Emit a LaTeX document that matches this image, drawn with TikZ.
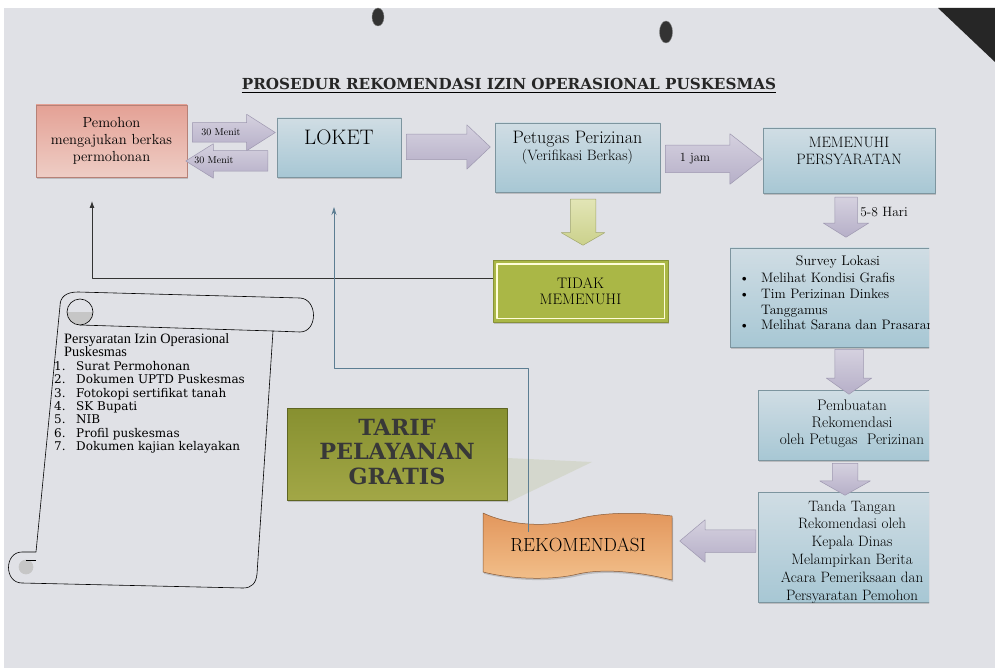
\documentclass[tikz,border=0pt]{standalone}
\usepackage{fontspec}
\newfontfamily\judulfont{DejaVu Serif}
\newfontfamily\timesfont{Liberation Serif}
\usetikzlibrary{shapes.arrows,shadows,arrows.meta,positioning}

\definecolor{kertas}{HTML}{E0E1E6}
\definecolor{biruA}{HTML}{D0DDE4}
\definecolor{biruB}{HTML}{A7C7D4}
\definecolor{merahA}{HTML}{E4A195}
\definecolor{merahB}{HTML}{EECDC5}
\definecolor{unguA}{HTML}{D5D1DF}
\definecolor{unguB}{HTML}{B6AFC8}
\definecolor{unguGaris}{HTML}{9E98B0}
\definecolor{hijauA}{HTML}{E2E5B6}
\definecolor{hijauB}{HTML}{CBD18B}
\definecolor{hijauTua}{HTML}{AAB746}
\definecolor{zaitunA}{HTML}{879030}
\definecolor{zaitunB}{HTML}{A2A746}
\definecolor{oranyeA}{HTML}{E2965C}
\definecolor{oranyeB}{HTML}{F2BF8A}
\definecolor{garisBiru}{HTML}{5C7D92}
\definecolor{bayangan}{HTML}{D3D7CB}

\tikzset{
  bayang/.style={drop shadow={shadow xshift=1.2pt, shadow yshift=-1.8pt, fill=black!40}},
  kotakbiru/.style={bayang, draw=biruB!75!black, line width=.3pt, top color=biruA, bottom color=biruB},
  panah/.style={single arrow, draw=unguGaris, line width=.5pt, top color=unguA, bottom color=unguB,
    minimum width=0pt, inner xsep=0pt, anchor=tail},
  panahturun/.style={panah, shape border rotate=270, inner ysep=0pt, inner xsep=#1},
  panahhijau/.style={panahturun=#1, draw=hijauB!80!black, top color=hijauA, bottom color=hijauB},
  teks/.style={inner sep=0pt, align=center}
}

\begin{document}
\begin{tikzpicture}[x=1pt, y=-1pt, font=\fontsize{14}{17}\selectfont, line join=round]
\useasboundingbox (0,0) rectangle (995,668);
% kertas foto
\fill[white] (0,0) rectangle (995,668);
\fill[kertas] (4,8) rectangle (995,668);
\fill[black!85] (938,8) -- (995,8) -- (995,62) -- cycle;
\fill[black!80, draw=gray] (378,17) ellipse[x radius=6, y radius=9];
\fill[black!80, draw=gray] (666,32) ellipse[x radius=6.5, y radius=11];

% judul
\node[teks, font=\judulfont\bfseries\fontsize{15.2}{18}\selectfont, text=black!85] (judul) at (509,84)
  {PROSEDUR REKOMENDASI IZIN OPERASIONAL PUSKESMAS};
\draw[line width=.8pt] ([yshift=-3pt]judul.base west) -- ([yshift=-3pt]judul.base east);

% baris atas
\node[bayang, draw=merahA!80!black, line width=.3pt, top color=merahA, bottom color=merahB,
  minimum width=151, minimum height=72, teks, font=\fontsize{14.6}{17}\selectfont] (pemohon) at (111.5,141)
  {Pemohon\\mengajukan berkas\\permohonan};
\node[kotakbiru, minimum width=124, minimum height=59] (loket) at (339,147.5) {};
\node[teks, font=\fontsize{21}{24}\selectfont] (loketteks) at (339,137) {LOKET};
\node[kotakbiru, minimum width=165, minimum height=69] (petugas) at (577.5,157.5) {};
\node[teks] (petugasteks) at (577.5,148)
  {{\fontsize{18}{18}\selectfont Petugas Perizinan}\\{\fontsize{15}{17}\selectfont (Verifikasi Berkas)}};
\node[kotakbiru, minimum width=172, minimum height=65] (memenuhi) at (849,160.5) {};
\node[teks, font=\fontsize{15}{17}\selectfont] (memenuhiteks) at (849,151) {MEMENUHI\\PERSYARATAN};

% panah blok
\node[panah, minimum height=83, inner ysep=9.5, single arrow head extend=8.5, single arrow tip angle=65] (kanan30) at (192,132.5) {};
\node[panah, shape border rotate=180, minimum height=82, inner ysep=10, single arrow head extend=7, single arrow tip angle=64] (kiri30) at (268,161) {};
\node[teks, font=\fontsize{10}{11}\selectfont] (menit1) at (221,132) {30 Menit};
\node[teks, font=\fontsize{10}{11}\selectfont] (menit2) at (214,160) {30 Menit};
\node[panah, minimum height=84, inner ysep=12.5, single arrow head extend=9.5, single arrow tip angle=87] (kepetugas) at (406,147) {};
\node[panah, minimum height=97, inner ysep=13.5, single arrow head extend=11.5, single arrow tip angle=76] (satujam) at (665,159) {};
\node[teks, font=\fontsize{12.5}{14}\selectfont] (jamteks) at (695,159) {1 jam};
\node[panahturun=11, minimum height=40, single arrow head extend=11.5, single arrow tip angle=116] (hari) at (846,197) {};
\node[teks, font=\fontsize{13.5}{15}\selectfont] (hariteks) at (884,212) {5-8 Hari};
\node[panahhijau=12.5, minimum height=46, single arrow head extend=9, single arrow tip angle=120] (turunhijau) at (583,199) {};

% tidak memenuhi
\node[bayang, fill=hijauTua, draw=hijauTua!80!black, line width=.3pt, minimum width=175, minimum height=62] (tidak) at (580.5,291) {};
\draw[draw=white!85!yellow, line width=1.3pt] ([xshift=4pt,yshift=-4pt]tidak.north west) rectangle ([xshift=-4pt,yshift=4pt]tidak.south east);
\node[teks, font=\fontsize{15.2}{16}\selectfont] (tidakteks) at (580.5,291) {TIDAK\\MEMENUHI};

% kolom kanan (terpotong di tepi kertas)
\begin{scope}
\clip (700,230) rectangle (929,620);
\node[kotakbiru, minimum width=220, minimum height=99] (survey) at (840,297.5) {};
\node[kotakbiru, minimum width=192, minimum height=70] (pembuatan) at (854,425) {};
\node[kotakbiru, minimum width=192, minimum height=110] (tanda) at (854,547) {};
\node[teks, font=\fontsize{14}{16}\selectfont] (surveyjudul) at (838,262) {Survey Lokasi};
\node[inner sep=0pt, align=left, anchor=north west, font=\fontsize{13.7}{15.7}\selectfont] (surveyisi) at (739,273)
  {\makebox[22pt][l]{\textbullet}Melihat Kondisi Grafis\\
   \makebox[22pt][l]{\textbullet}Tim Perizinan Dinkes\\
   \hspace*{22pt}Tanggamus\\
   \makebox[22pt][l]{\textbullet}Melihat Sarana dan Prasarana};
\node[teks, font=\fontsize{15.3}{17}\selectfont] (pembuatanteks) at (852,424)
  {Pembuatan\\Rekomendasi\\oleh Petugas\ \ Perizinan};
\node[teks, font=\fontsize{15}{17.8}\selectfont] (tandateks) at (852,552)
  {Tanda Tangan\\Rekomendasi oleh\\Kepala Dinas\\Melampirkan Berita\\Acara Pemeriksaan dan\\Persyaratan Pemohon};
\end{scope}
\node[panahturun=14, minimum height=45, single arrow head extend=8.5, single arrow tip angle=109] (kepembuatan) at (849,349) {};
\node[panahturun=12.5, minimum height=32, single arrow head extend=12.5, single arrow tip angle=121] (ketanda) at (845,463) {};
\node[panah, shape border rotate=180, minimum height=76, inner ysep=11, single arrow head extend=10, single arrow tip angle=80] (kerekom) at (756,541) {};

% gulungan persyaratan
\draw[line width=.6pt] (60,306) .. controls (60,297) and (66,292) .. (78,292) -- (300,298)
  .. controls (318,299) and (318,332) .. (300,332) -- (273,331) -- (257,574)
  .. controls (256,583) and (252,588) .. (243,588) -- (22,583)
  .. controls (4,583) and (4,552) .. (22,552) -- (36,552) -- cycle;
\draw[line width=.6pt] (273,331) -- (80,325);
\begin{scope}
\clip (60,312) rectangle (100,330);
\fill[gray!45] (80,312) circle[radius=13];
\end{scope}
\draw[line width=.6pt] (80,312) circle[radius=13];
\fill[gray!45, draw, line width=.6pt] (26,567) circle[radius=7];
\draw[line width=.6pt] (26,560) -- (36,560);
\node[inner sep=0pt, align=left, anchor=north west, font=\timesfont\fontsize{14.3}{13.5}\selectfont] (syarat) at (64,333)
  {Persyaratan Izin Operasional\\Puskesmas};
\node[inner sep=0pt, align=left, anchor=north west, font=\judulfont\fontsize{12}{13.4}\selectfont] (daftar) at (54,361)
  {\makebox[22pt][l]{1.}Surat Permohonan\\
   \makebox[22pt][l]{2.}Dokumen UPTD Puskesmas\\
   \makebox[22pt][l]{3.}Fotokopi sertifikat tanah\\
   \makebox[22pt][l]{4.}SK Bupati\\
   \makebox[22pt][l]{5.}NIB\\
   \makebox[22pt][l]{6.}Profil puskesmas\\
   \makebox[22pt][l]{7.}Dokumen kajian kelayakan};

% tarif dan rekomendasi
\fill[bayangan, opacity=.9] (507,458) -- (592,462) -- (507,503) -- cycle;
\node[bayang, draw=zaitunA!70!black, line width=.3pt, top color=zaitunA, bottom color=zaitunB,
  minimum width=220, minimum height=92] (tarif) at (397,454) {};
\node[teks, font=\judulfont\bfseries\fontsize{22.3}{24.5}\selectfont, text=black!78] (tarifteks) at (397,452)
  {TARIF\\PELAYANAN\\GRATIS};
\draw[bayang, draw=oranyeA!60!black, line width=.5pt, top color=oranyeA, bottom color=oranyeB]
  (483,513) .. controls (515,528) and (555,526) .. (578,519) .. controls (602,512) and (640,512) .. (672,516)
  -- (672,580) .. controls (640,572) and (604,568) .. (578,574) .. controls (554,580) and (515,580) .. (483,572) -- cycle;
\node[teks, font=\fontsize{19}{20}\selectfont] (rek) at (578,545) {REKOMENDASI};

% garis balik
\coordinate (ujungbalik) at (92,201);
\draw[line width=.9pt, black!80, -{Latex[length=7pt,width=5pt]}] ([yshift=13pt]tidak.west) -| (ujungbalik);
\coordinate (rekpangkal) at (528,532);
\coordinate (belok) at (334,368);
\coordinate (ujungloket) at (334,207);
\draw[line width=.7pt, garisBiru, -{Stealth[length=8pt,width=5pt]}] (rekpangkal) |- (belok) -- (ujungloket);
\end{tikzpicture}
\end{document}
